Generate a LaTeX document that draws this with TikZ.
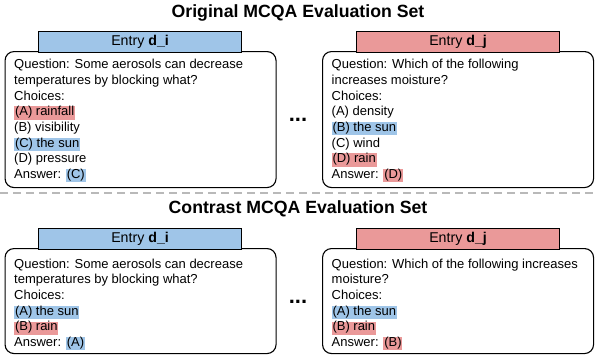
\documentclass[tikz,border=0pt]{standalone}
\usepackage{xcolor}
\usepackage{fontspec}
\setmainfont{Liberation Sans}
\usetikzlibrary{positioning}
\definecolor{entryblue}{RGB}{159,197,232}
\definecolor{entryred}{RGB}{234,153,153}
\setlength{\fboxsep}{0pt}
\newcommand{\hlblue}[1]{\colorbox{entryblue}{\rule[-3.8pt]{0pt}{12pt}\kern0.8pt#1\kern0.8pt}}
\newcommand{\hlred}[1]{\colorbox{entryred}{\rule[-3.8pt]{0pt}{12pt}\kern0.8pt#1\kern0.8pt}}
\tikzset{mcqa/.style={
    settitle/.style={font=\fontsize{17.7}{20}\selectfont\bfseries, inner sep=0pt},
    entrybox/.style={rectangle, draw=black, line width=1.1pt, rounded corners=9pt, minimum width=271pt, anchor=north west},
    entryhead/.style={rectangle, draw=black, line width=1.1pt, minimum width=203pt, minimum height=21pt, anchor=north west, inner sep=0pt, font=\fontsize{14.2}{15}\selectfont},
    qtext/.style={align=left, inner sep=0pt, font=\fontsize{13}{15.7}\selectfont},
    moredots/.style={font=\fontsize{22}{22}\selectfont\bfseries, inner sep=0pt},
    divider/.style={gray!55, line width=1.6pt, dash pattern=on 8pt off 5pt},
}}

\begin{document}
\begin{tikzpicture}[mcqa, x=1pt, y=-1pt]
    \useasboundingbox (0,0) rectangle (596,354);
    \node[settitle] (origtitle) at (298,13) {Original MCQA Evaluation Set};
    \node[entrybox, minimum height=136pt] (boxi) at (4.5,51) {};
    \node[entrybox, minimum height=136pt] (boxj) at (322,51) {};
    \node[entryhead, fill=entryblue] (hdi) at (38,31) {Entry \textbf{d\_i}};
    \node[entryhead, fill=entryred] (hdj) at (356,31) {Entry \textbf{d\_j}};
    \node[qtext, below right=8pt and 9.5pt of boxi.north west] (qi) {Question: Some aerosols can decrease\\temperatures by blocking what?\\Choices:\\\hlred{(A) rainfall}\\(B) visibility\\\hlblue{(C) the sun}\\(D) pressure\\Answer: \hlblue{(C)}};
    \node[qtext, below right=8pt and 9.5pt of boxj.north west] (qj) {Question: Which of the following\\increases moisture?\\Choices:\\(A) density\\\hlblue{(B) the sun}\\(C) wind\\\hlred{(D) rain}\\Answer: \hlred{(D)}};
    \node[moredots] (dotstop) at (298,120) {...};
    \coordinate (divl) at (0,193);
    \coordinate (divr) at (596,193);
    \draw[divider] (divl) -- (divr);
    \node[settitle] (contrtitle) at (298,209) {Contrast MCQA Evaluation Set};
    \node[entrybox, minimum height=105pt] (boxci) at (4.5,248) {};
    \node[entrybox, minimum height=105pt] (boxcj) at (322,248) {};
    \node[entryhead, fill=entryblue] (hdci) at (38,228) {Entry \textbf{d\_i}};
    \node[entryhead, fill=entryred] (hdcj) at (356,228) {Entry \textbf{d\_j}};
    \node[qtext, below right=10.5pt and 9.5pt of boxci.north west] (qci) {Question: Some aerosols can decrease\\temperatures by blocking what?\\Choices:\\\hlblue{(A) the sun}\\\hlred{(B) rain}\\Answer: \hlblue{(A)}};
    \node[qtext, below right=10.5pt and 9.5pt of boxcj.north west] (qcj) {Question: Which of the following increases\\moisture?\\Choices:\\\hlblue{(A) the sun}\\\hlred{(B) rain}\\Answer: \hlred{(B)}};
    \node[moredots] (dotsbot) at (298,302) {...};
\end{tikzpicture}
\end{document}
